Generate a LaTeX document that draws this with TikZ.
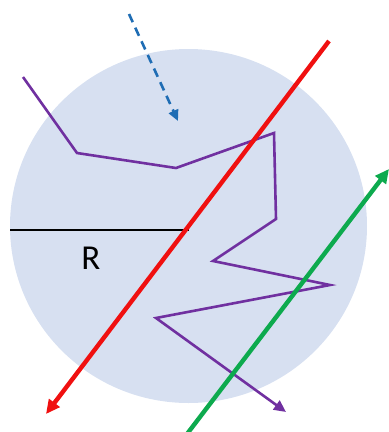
\documentclass[tikz,border=0pt]{standalone}
\usepackage{fontspec}
\setmainfont{Carlito}
\usetikzlibrary{arrows.meta}
\definecolor{discfill}{HTML}{D7E0F1}
\definecolor{redline}{HTML}{F01010}
\definecolor{greenline}{HTML}{0DAA4E}
\definecolor{purpleline}{HTML}{7030A0}
\definecolor{blueline}{HTML}{1F6DB4}
\tikzset{
  redray/.style={draw=redline, line width=4.4pt, -{Triangle[length=14pt,width=13pt]}},
  greenray/.style={draw=greenline, line width=4.4pt, -{Triangle[length=14pt,width=13pt]}},
  walk/.style={draw=purpleline, line width=2.6pt, line join=miter, -{Triangle[length=12pt,width=11pt]}},
  incoming/.style={draw=blueline, line width=2.6pt, dash pattern=on 9pt off 6pt, -{Triangle[length=11pt,width=10pt]}},
  radius line/.style={draw=black, line width=2.8pt},
}
\begin{document}
\begin{tikzpicture}[x=1pt,y=-1pt]
\useasboundingbox (0,0) rectangle (389,432);
\fill[discfill] (188.5,226) ellipse [x radius=178.5, y radius=177];
% radius
\coordinate (rl) at (10,230);
\coordinate (rr) at (189,230);
\draw[radius line] (rl) -- (rr);
\node[font=\fontsize{35}{38}\selectfont, inner sep=0pt] (rlab) at (91,258) {R};
% purple random walk
\coordinate (p0) at (23,77);
\coordinate (p1) at (77,153);
\coordinate (p2) at (176,168);
\coordinate (p3) at (274,133);
\coordinate (p4) at (276,219);
\coordinate (p5) at (213,261);
\coordinate (p6) at (330,285);
\coordinate (p7) at (156,318);
\coordinate (p8) at (286,412);
\draw[walk] (p0) -- (p1) -- (p2) -- (p3) -- (p4) -- (p5) -- (p6) -- (p7) -- (p8);
% red ray
\coordinate (r0) at (329,41);
\coordinate (r1) at (46,414);
\draw[redray] (r0) -- (r1);
% green ray
\coordinate (g0) at (187,434);
\coordinate (g1) at (389,169);
\draw[greenray] (g0) -- (g1);
% blue dashed incoming
\coordinate (b0) at (129,14);
\coordinate (b1) at (178,121);
\draw[incoming] (b0) -- (b1);
\end{tikzpicture}
\end{document}
